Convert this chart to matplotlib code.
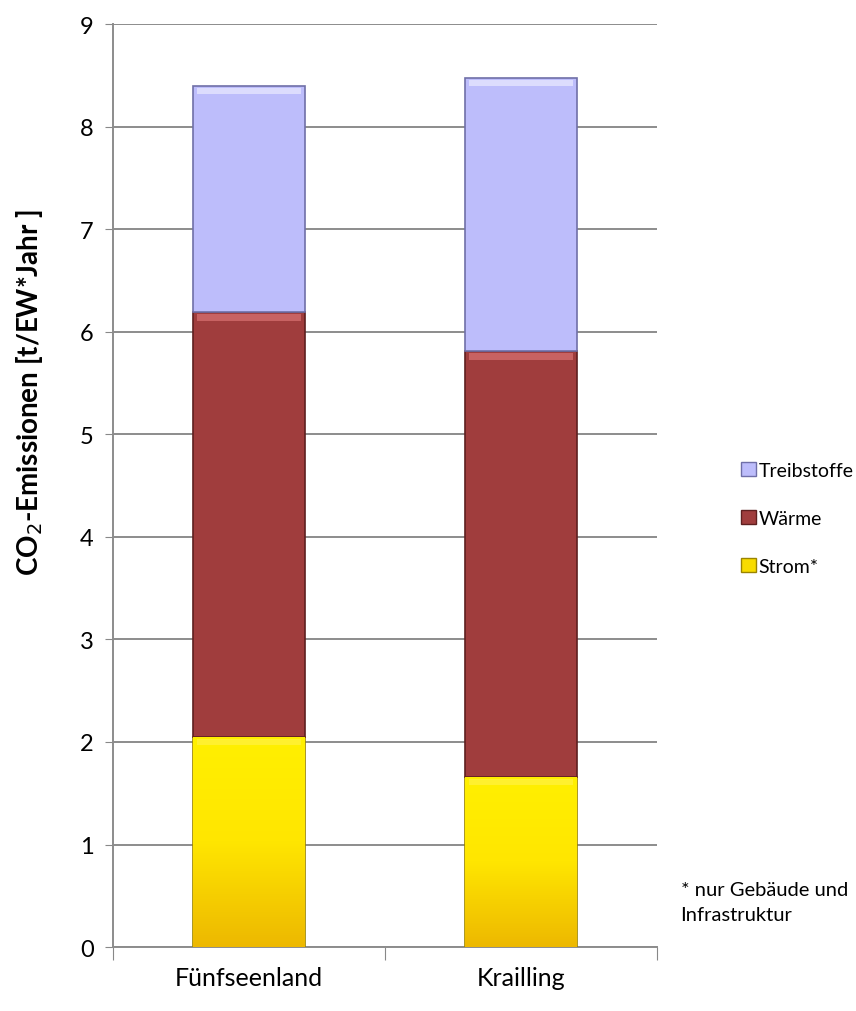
import numpy as np
import matplotlib.pyplot as plt
from matplotlib.patches import Patch
from matplotlib.colors import LinearSegmentedColormap

plt.rcParams['font.family'] = ['Lato', 'DejaVu Sans']

regions = ["Fünfseenland", "Krailling"]
strom = [2.05, 1.66]
waerme = [4.14, 4.15]
treibstoffe = [2.21, 2.67]

series = [
    ("Strom*", strom, "#F8DC00", "#9A8400", "#FFF24D"),
    ("Wärme", waerme, "#A03D3D", "#5E1F1F", "#E47B7B"),
    ("Treibstoffe", treibstoffe, "#BDBDFB", "#6F6FA8", "#F2F2FF"),
]

fig = plt.figure(figsize=(8.56, 10.12), dpi=100)
ax = fig.add_axes([0.132, 0.0632, 0.6355, 0.9118])

x = np.arange(len(regions))
width = 0.41
bottom = np.zeros(len(regions))
yellow = LinearSegmentedColormap.from_list("y", ["#EDB800", "#FFE600", "#FFF000"])

for name, vals, col, edge, hi in series:
    vals = np.array(vals)
    bars = ax.bar(x, vals, width, bottom=bottom, color=col, edgecolor=edge,
                  linewidth=1.2, zorder=3)
    if name == "Strom*":
        grad = np.linspace(0, 1, 256).reshape(-1, 1)
        for b in bars:
            x0, y0 = b.get_x(), b.get_y()
            im = ax.imshow(grad, cmap=yellow, aspect="auto", origin="lower",
                           extent=[x0, x0 + b.get_width(), y0, y0 + b.get_height()],
                           zorder=3.5)
            im.set_clip_path(b)
    # lighter band along the top of each segment
    ax.bar(x, np.full(len(regions), 0.06), width * 0.94,
           bottom=bottom + vals - 0.08, color=hi, alpha=0.6, linewidth=0, zorder=4)
    bottom = bottom + vals

ax.set_xlim(-0.5, 1.5)
ax.set_ylim(0, 9)
ax.set_yticks(range(10))
ax.tick_params(axis="y", labelsize=17, length=6, color="#888888", pad=8)
ax.set_xticks([-0.5, 0.5, 1.5])
ax.set_xticklabels([])
ax.set_xticks(x, minor=True)
ax.set_xticklabels(regions, minor=True)
ax.tick_params(axis="x", which="major", length=9, color="#888888")
ax.tick_params(axis="x", which="minor", length=0, labelsize=18, pad=14)
ax.grid(axis="y", color="#8C8C8C", linewidth=1.4, zorder=0)
for s in ["top", "right"]:
    ax.spines[s].set_visible(False)
for s in ["left", "bottom"]:
    ax.spines[s].set_color("#8C8C8C")
    ax.spines[s].set_linewidth(1.4)

ax.set_ylabel("CO$_2$-Emissionen [t/EW*Jahr ]", fontsize=20, fontweight="bold")
ax.yaxis.set_label_coords(-0.125, 0.602)

handles = [Patch(facecolor=c, edgecolor=e) for _, _, c, e, _ in series[::-1]]
labels = [n for n, *_ in series[::-1]]
fig.legend(handles, labels, loc="center left", bbox_to_anchor=(0.866, 0.487),
           frameon=False, fontsize=14, handlelength=0.75, handleheight=0.75,
           handletextpad=0.15, labelspacing=1.6, borderpad=0, borderaxespad=0)

fig.text(0.795, 0.108, "* nur Gebäude und\nInfrastruktur", fontsize=14.5, va="center",
         linespacing=1.55)

fig.savefig("out.png", dpi=100)
